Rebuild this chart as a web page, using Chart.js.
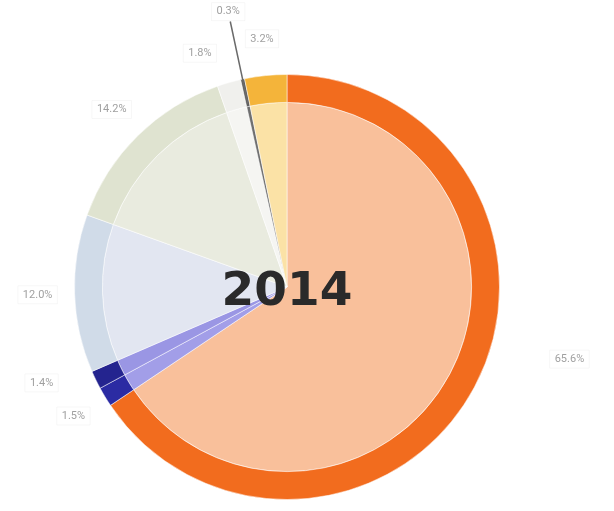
<!DOCTYPE html>
<html>
<head>
<meta charset="utf-8">
<script src="https://cdn.jsdelivr.net/npm/chart.js@4.4.0/dist/chart.umd.min.js"></script>
<style>
  html, body { margin: 0; padding: 0; background: #fff; }
  #wrap { width: 614px; height: 511px; }
</style>
</head>
<body>
<div id="wrap"><canvas id="myChart"></canvas></div>
<script>
var year = "2014";

// segments, clockwise from 12 o'clock
var categories = ["A", "B", "C", "D", "E", "F", "G", "H"];
var shares = [65.6, 1.5, 1.4, 12.0, 14.2, 1.8, 0.3, 3.2];

var innerColors = ["#f9c09b", "#a29ee8", "#9a96e4", "#e2e6f1", "#e9ebdf", "#f5f5f2", "#6f6f6f", "#fbe2a6"];
var outerColors = ["#f26c1e", "#2b2ba3", "#24248f", "#d0dbe8", "#dfe3d0", "#f0f0ed", "#5f5f5f", "#f4b43a"];

// label tweaks (radians / px) for a few segments
var labelNudge = { 0: -0.24, 2: 0.08, 5: -0.08 };
var labelExtra = { 0: 42, 2: 14, 6: 32 };
var leaderFor = { 6: true };

var centerText = {
  id: "centerText",
  afterDatasetsDraw: function (chart) {
    var arc = chart.getDatasetMeta(1).data[0];
    var ctx = chart.ctx;
    ctx.save();
    ctx.font = "bold 47px 'DejaVu Sans'";
    ctx.fillStyle = "#2a2a2a";
    ctx.textAlign = "center";
    ctx.textBaseline = "middle";
    ctx.fillText(year, arc.x, arc.y + 6);
    ctx.restore();
  }
};

var shareLabels = {
  id: "shareLabels",
  afterDatasetsDraw: function (chart) {
    var ctx = chart.ctx;
    var meta = chart.getDatasetMeta(0);
    ctx.save();
    ctx.font = "11px Roboto";
    ctx.textAlign = "center";
    ctx.textBaseline = "middle";
    meta.data.forEach(function (arc, i) {
      var p = arc.getProps(["x", "y", "startAngle", "endAngle", "outerRadius"], true);
      var mid = (p.startAngle + p.endAngle) / 2 + (labelNudge[i] || 0);
      var r = p.outerRadius + 37 + (labelExtra[i] || 0);
      var lx = p.x + Math.cos(mid) * r;
      var ly = p.y + Math.sin(mid) * r;
      if (leaderFor[i]) {
        // leader line for a thin segment
        ctx.strokeStyle = "#6a6a6a";
        ctx.lineWidth = 1.5;
        ctx.beginPath();
        ctx.moveTo(p.x + Math.cos(mid) * (p.outerRadius - 25), p.y + Math.sin(mid) * (p.outerRadius - 25));
        ctx.lineTo(p.x + Math.cos(mid) * (r - 10), p.y + Math.sin(mid) * (r - 10));
        ctx.stroke();
      }
      var txt = shares[i].toFixed(1) + "%";
      var w = ctx.measureText(txt).width + 10;
      ctx.fillStyle = "rgba(255,255,255,0.9)";
      ctx.strokeStyle = "rgba(0,0,0,0.035)";
      ctx.lineWidth = 1;
      ctx.beginPath();
      ctx.rect(lx - w / 2, ly - 9, w, 18);
      ctx.fill();
      ctx.stroke();
      ctx.fillStyle = "#a0a0a0";
      ctx.fillText(txt, lx, ly);
    });
    ctx.restore();
  }
};

var ctx = document.getElementById("myChart").getContext("2d");
var chart = new Chart(ctx, {
  type: "doughnut",
  data: {
    labels: categories,
    datasets: [
      {
        // outer ring
        data: shares,
        backgroundColor: outerColors,
        borderColor: "rgba(255,255,255,0.5)",
        borderWidth: 1,
        weight: 0.151
      },
      {
        // inner pie
        data: shares,
        backgroundColor: innerColors,
        borderColor: "rgba(255,255,255,0.5)",
        borderWidth: 1,
        weight: 1
      }
    ]
  },
  options: {
    responsive: true,
    maintainAspectRatio: false,
    animation: false,
    cutout: 0,
    layout: { padding: { left: 74, right: 114, top: 74, bottom: 11 } },
    plugins: {
      legend: { display: false },
      tooltip: { enabled: false }
    }
  },
  plugins: [shareLabels, centerText]
});
</script>
</body>
</html>
